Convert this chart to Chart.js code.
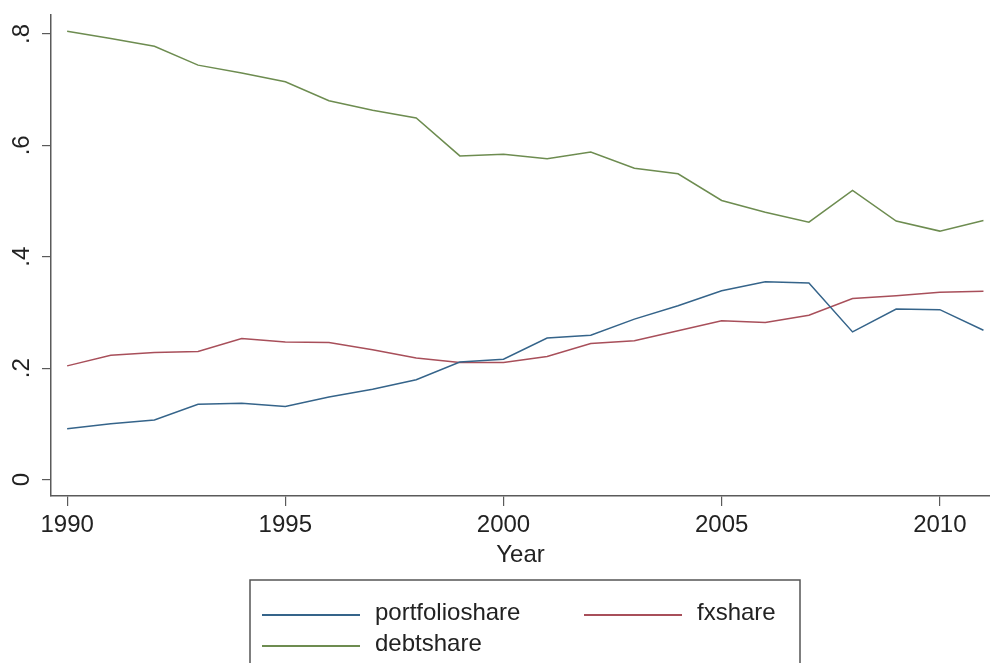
<!DOCTYPE html>
<html>
<head>
<meta charset="utf-8">
<script src="https://cdn.jsdelivr.net/npm/chart.js@4/dist/chart.umd.min.js"></script>
<style>
  html, body { margin: 0; padding: 0; background: #fff; }
  #wrap { width: 990px; height: 663px; position: relative; }
</style>
</head>
<body>
<div id="wrap"><canvas id="chart"></canvas></div>
<script>
// Data
const years = [1990, 1991, 1992, 1993, 1994, 1995, 1996, 1997, 1998, 1999, 2000,
               2001, 2002, 2003, 2004, 2005, 2006, 2007, 2008, 2009, 2010, 2011];
const portfolioshare = [0.091, 0.100, 0.107, 0.135, 0.137, 0.131, 0.148, 0.162, 0.179, 0.211, 0.216,
                        0.254, 0.259, 0.288, 0.312, 0.339, 0.355, 0.353, 0.265, 0.306, 0.305, 0.268];
const fxshare = [0.204, 0.223, 0.228, 0.230, 0.253, 0.247, 0.246, 0.233, 0.218, 0.210, 0.210,
                 0.221, 0.244, 0.249, 0.267, 0.285, 0.282, 0.295, 0.325, 0.330, 0.336, 0.338];
const debtshare = [0.805, 0.792, 0.778, 0.744, 0.730, 0.714, 0.680, 0.663, 0.649, 0.581, 0.584,
                   0.576, 0.588, 0.559, 0.549, 0.501, 0.480, 0.462, 0.519, 0.464, 0.446, 0.465];
const xTicks = [1990, 1995, 2000, 2005, 2010];
const yTicks = [0, 0.2, 0.4, 0.6, 0.8];
const yTickLabels = ['0', '.2', '.4', '.6', '.8'];

const FONT = '"Liberation Sans", Arial, Helvetica, sans-serif';
const AXIS = '#5a5a5a';

function pts(vals) {
    return years.map((y, i) => ({ x: y, y: vals[i] }));
}

// y labels are rotated in the original, so draw them by hand at the scale's pixels
const yLabelPlugin = {
    id: 'yLabels',
    afterDraw(chart) {
        const ctx = chart.ctx;
        const ys = chart.scales.y;
        ctx.save();
        ctx.font = '24px ' + FONT;
        ctx.fillStyle = '#222';
        ctx.textAlign = 'center';
        ctx.textBaseline = 'middle';
        yTicks.forEach((v, i) => {
            const py = ys.getPixelForValue(v);
            ctx.save();
            ctx.translate(22, py);
            ctx.rotate(-Math.PI / 2);
            ctx.fillText(yTickLabels[i], 0, 0);
            ctx.restore();
        });
        ctx.restore();
    }
};

// Stata-style boxed legend under the plot
const legendBox = {
    id: 'legendBox',
    afterDraw(chart) {
        const ctx = chart.ctx;
        const ds = chart.data.datasets;
        ctx.save();
        ctx.strokeStyle = '#555';
        ctx.lineWidth = 1.5;
        ctx.strokeRect(250, 580, 550, 120);
        const slots = [
            { x: 262, y: 615 },
            { x: 584, y: 615 },
            { x: 262, y: 646 }
        ];
        ctx.font = '24px ' + FONT;
        ctx.fillStyle = '#222';
        ctx.textBaseline = 'middle';
        ds.forEach((d, i) => {
            const s = slots[i];
            ctx.strokeStyle = d.borderColor;
            ctx.lineWidth = 2;
            ctx.beginPath();
            ctx.moveTo(s.x, s.y);
            ctx.lineTo(s.x + 98, s.y);
            ctx.stroke();
            ctx.fillText(d.label, s.x + 113, s.y - 2);
        });
        ctx.restore();
    }
};

new Chart(document.getElementById('chart'), {
    type: 'line',
    data: {
        datasets: [
            { label: 'portfolioshare', data: pts(portfolioshare), borderColor: '#35648a', borderWidth: 1.5 },
            { label: 'fxshare', data: pts(fxshare), borderColor: '#a84f5a', borderWidth: 1.5 },
            { label: 'debtshare', data: pts(debtshare), borderColor: '#6d8c50', borderWidth: 1.5 }
        ]
    },
    options: {
        responsive: true,
        maintainAspectRatio: false,
        animation: false,
        layout: { padding: { top: 15, right: 0, left: 0, bottom: 93 } },
        elements: { point: { radius: 0 }, line: { tension: 0 } },
        plugins: { legend: { display: false }, tooltip: { enabled: false } },
        scales: {
            x: {
                type: 'linear',
                min: 1989.63,
                max: 2011.15,
                afterBuildTicks: s => { s.ticks = xTicks.map(v => ({ value: v })); },
                afterFit: s => { s.height = 74; },
                grid: { drawOnChartArea: false, drawTicks: true, tickLength: 10, color: AXIS, lineWidth: 1.2 },
                border: { color: AXIS, width: 1.5 },
                ticks: {
                    font: { family: FONT, size: 24 },
                    color: '#222',
                    padding: 5,
                    maxRotation: 0,
                    callback: v => String(v)
                },
                title: {
                    display: true,
                    text: 'Year',
                    font: { family: FONT, size: 24 },
                    color: '#222',
                    padding: { top: 0, bottom: 0 }
                }
            },
            y: {
                type: 'linear',
                min: -0.0296,
                max: 0.834,
                afterBuildTicks: s => { s.ticks = yTicks.map(v => ({ value: v })); },
                afterFit: s => { s.width = 51; },
                grid: { drawOnChartArea: false, drawTicks: true, tickLength: 9, color: AXIS, lineWidth: 1.2 },
                border: { color: AXIS, width: 1.5 },
                ticks: { display: false }
            }
        }
    },
    plugins: [yLabelPlugin, legendBox]
});
</script>
</body>
</html>
